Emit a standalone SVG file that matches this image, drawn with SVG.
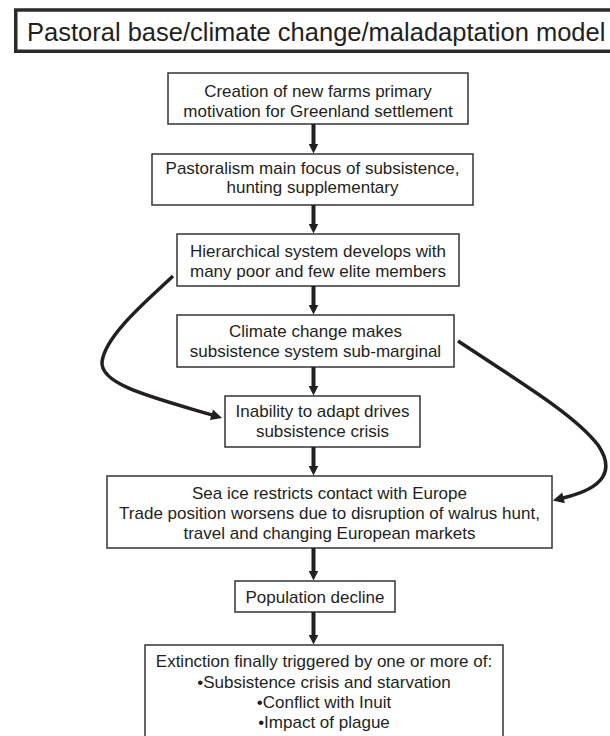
<svg xmlns="http://www.w3.org/2000/svg" width="610" height="736" viewBox="0 0 610 736">
<style>
  .box { fill: #ffffff; stroke: #333333; stroke-width: 1.5; }
  .title-box { fill: #ffffff; stroke: #2a2a2a; stroke-width: 3.5; }
  text { font-family: "Liberation Sans", Arial, sans-serif; fill: #231f20; }
  .t { font-size: 17px; text-anchor: middle; }
  .title { font-size: 25.5px; }
  .arrow { fill: none; stroke: #231f20; stroke-width: 4; }
  .curve { fill: none; stroke: #231f20; stroke-width: 3.5; }
</style>
<defs>
  <marker id="head" viewBox="0 0 10 10" refX="0.5" refY="5" markerUnits="userSpaceOnUse" markerWidth="10" markerHeight="10" orient="auto">
    <path d="M0,0 L10,5 L0,10 z" fill="#231f20"/>
  </marker>
  <marker id="headc" viewBox="0 0 10 10" refX="0.5" refY="5" markerUnits="userSpaceOnUse" markerWidth="12" markerHeight="11" orient="auto">
    <path d="M0,0 L10,5 L0,10 z" fill="#231f20"/>
  </marker>
</defs>

<g id="title">
  <rect class="title-box" x="15.75" y="10" width="610" height="41.25"/>
  <text class="title" x="27" y="41">Pastoral base/climate change/maladaptation model</text>
</g>

<g id="n1">
  <rect class="box" x="168" y="73" width="300" height="51"/>
  <text class="t" x="318" y="97">Creation of new farms primary</text>
  <text class="t" x="318" y="117">motivation for Greenland settlement</text>
</g>

<g id="n2">
  <rect class="box" x="152" y="154" width="321" height="51"/>
  <text class="t" x="312.5" y="173.5">Pastoralism main focus of subsistence,</text>
  <text class="t" x="312.5" y="193">hunting supplementary</text>
</g>

<g id="n3">
  <rect class="box" x="177" y="234" width="282" height="52"/>
  <text class="t" x="318" y="257">Hierarchical system develops with</text>
  <text class="t" x="318" y="277">many poor and few elite members</text>
</g>

<g id="n4">
  <rect class="box" x="177" y="315" width="277" height="52"/>
  <text class="t" x="315.5" y="337">Climate change makes</text>
  <text class="t" x="315.5" y="357">subsistence system sub-marginal</text>
</g>

<g id="n5">
  <rect class="box" x="225" y="396" width="195" height="51"/>
  <text class="t" x="322.5" y="417">Inability to adapt drives</text>
  <text class="t" x="322.5" y="437">subsistence crisis</text>
</g>

<g id="n6">
  <rect class="box" x="107" y="476" width="445" height="72"/>
  <text class="t" x="329.5" y="498.5">Sea ice restricts contact with Europe</text>
  <text class="t" x="329.5" y="518.5">Trade position worsens due to disruption of walrus hunt,</text>
  <text class="t" x="329.5" y="538.5">travel and changing European markets</text>
</g>

<g id="n7">
  <rect class="box" x="235" y="581" width="160" height="31"/>
  <text class="t" x="315" y="602.5">Population decline</text>
</g>

<g id="n8">
  <rect class="box" x="145" y="645" width="358" height="100"/>
  <text class="t" x="324" y="667">Extinction finally triggered by one or more of:</text>
  <text class="t" x="324" y="687.5">•Subsistence crisis and starvation</text>
  <text class="t" x="324" y="707.5">•Conflict with Inuit</text>
  <text class="t" x="324" y="728">•Impact of plague</text>
</g>

<g id="connectors">
  <line class="arrow" x1="313.5" y1="124" x2="313.5" y2="144" marker-end="url(#head)"/>
  <line class="arrow" x1="313.5" y1="205" x2="313.5" y2="224" marker-end="url(#head)"/>
  <line class="arrow" x1="313.5" y1="286" x2="313.5" y2="305" marker-end="url(#head)"/>
  <line class="arrow" x1="313.5" y1="367" x2="313.5" y2="386" marker-end="url(#head)"/>
  <line class="arrow" x1="313.5" y1="447" x2="313.5" y2="466" marker-end="url(#head)"/>
  <line class="arrow" x1="313.5" y1="548" x2="313.5" y2="571" marker-end="url(#head)"/>
  <line class="arrow" x1="313.5" y1="612" x2="313.5" y2="635" marker-end="url(#head)"/>
  <path class="curve" d="M173,276 C150,298 105,335 102,362 C100,385 155,398 212,415" marker-end="url(#headc)"/>
  <path class="curve" d="M458,341 C520,382 575,415 598,445 C615,470 605,488 563,498" marker-end="url(#headc)"/>
</g>
</svg>
